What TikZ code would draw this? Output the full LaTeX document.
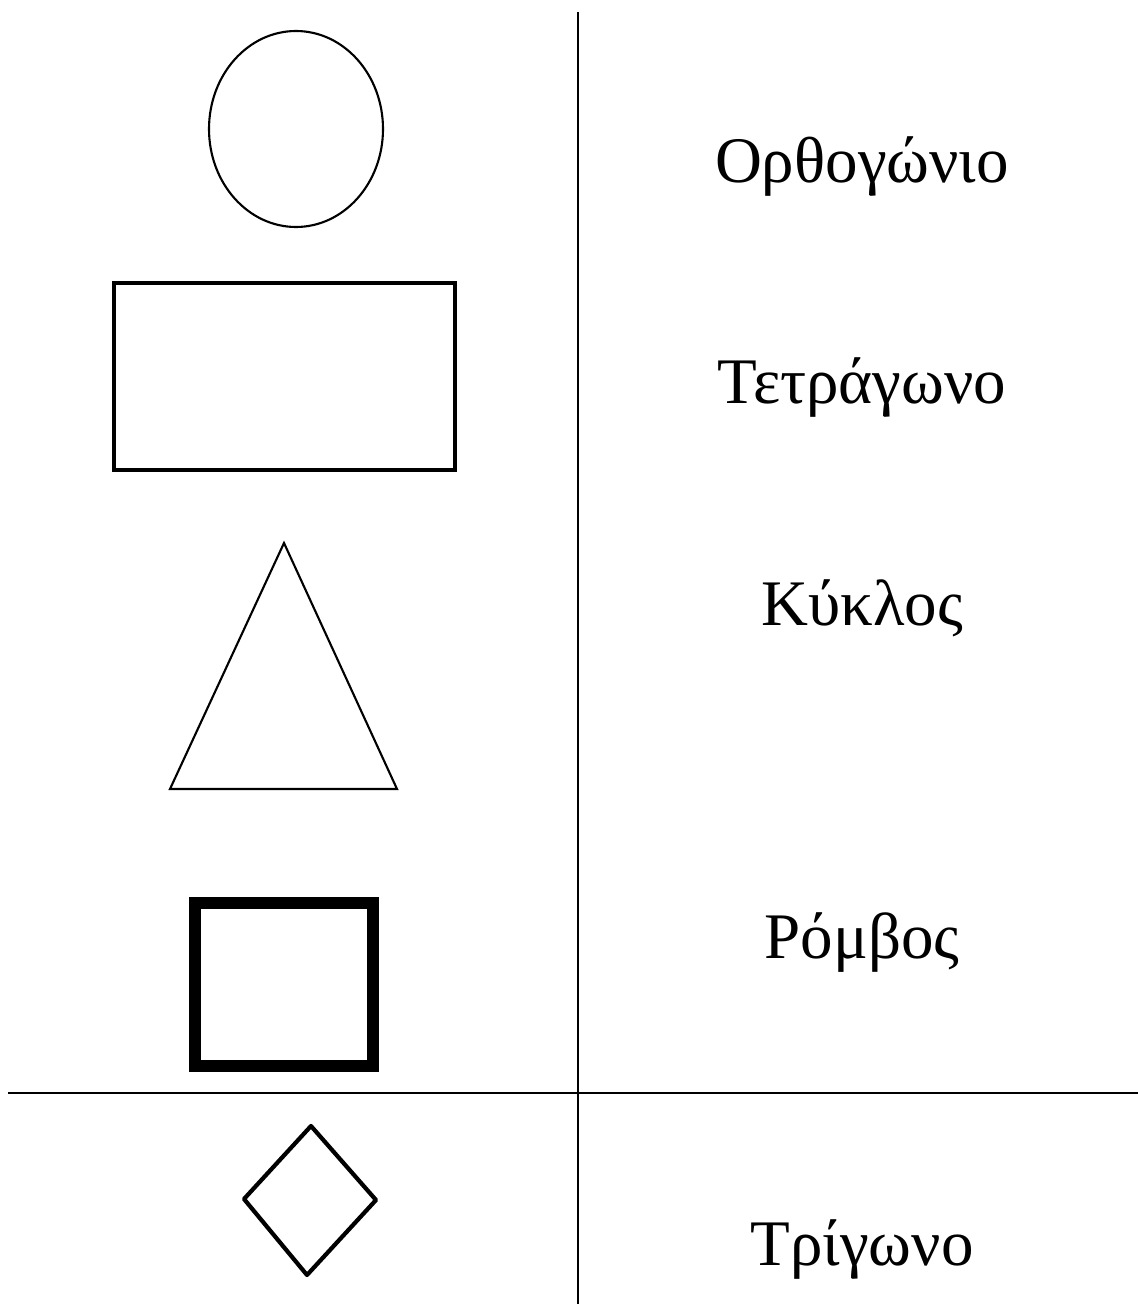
\documentclass[tikz,border=0pt]{standalone}
\usepackage{fontspec}
\setmainfont{Liberation Serif}
\usetikzlibrary{positioning}
\tikzset{
  word/.style={anchor=base, font=\fontsize{37}{39}\selectfont, inner sep=0pt},
  rule/.style={line width=1.2pt, black},
  outline/.style={line width=1.2pt, black, line join=miter}
}
\begin{document}
\begin{tikzpicture}[x=0.02cm, y=-0.02cm]
  \useasboundingbox (0,0) rectangle (1138,1304);

  % divider lines
  \draw[rule] (578,12) -- (578,1304);
  \draw[rule] (8,1093) -- (1138,1093);

  % shapes
  \draw[outline] (296,129) ellipse [x radius=87, y radius=98];
  \draw[outline, line width=1.8pt] (114,283) rectangle (455,470);
  \draw[outline] (284,543) -- (397,789) -- (170,789) -- cycle;
  \draw[outline, line width=6.8pt] (195,903) rectangle (373,1066);
  \draw[outline, line width=2.4pt, line join=round] (311,1126) -- (376,1200) -- (307,1275) -- (244,1199) -- cycle;

  % words
  \node[word] (w1) at (862,183)  {Ορθογώνιο};
  \node[word] (w2) at (862,403)  {Τετράγωνο};
  \node[word] (w3) at (862,625)  {Κύκλος};
  \node[word] (w4) at (862,958)  {Ρόμβος};
  \node[word] (w5) at (862,1265) {Τρίγωνο};
\end{tikzpicture}
\end{document}
